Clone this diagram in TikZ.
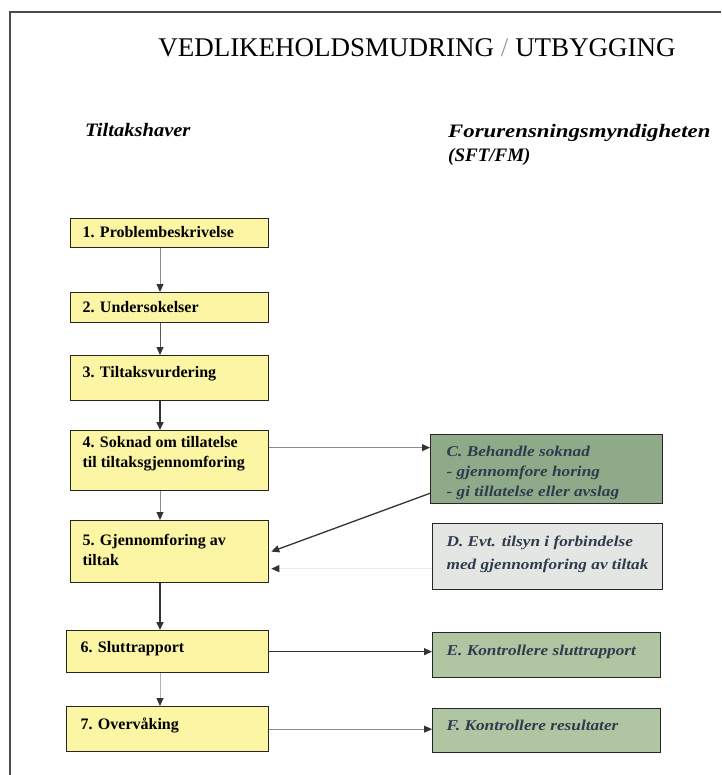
\documentclass[tikz,border=0pt]{standalone}
\usepackage{fontspec}
\usepackage{graphicx}
\setmainfont{Liberation Serif}
\newfontfamily\rfont[FakeStretch=1.15]{Liberation Serif}
\usetikzlibrary{arrows.meta}
\definecolor{ylw}{HTML}{FCF6A4}
\definecolor{grnd}{HTML}{8FAA88}
\definecolor{grnl}{HTML}{B0C6A3}
\definecolor{gryb}{HTML}{E3E6E2}
\definecolor{rtxt}{HTML}{2F3B4E}
\definecolor{lnk}{HTML}{333333}
\definecolor{lnl}{HTML}{8A8A8A}
\newcommand{\bxt}[5]{\parbox[c][#2][t]{#1}{\raggedright\leftskip=#4\relax\vspace*{#3}#5\par}}
\tikzset{
  box/.style={draw=black!85, line width=1.3pt, inner sep=0pt, anchor=north west},
  lbox/.style={box, fill=ylw, font=\fontsize{16}{20}\selectfont\bfseries},
  rbox/.style={box, font=\rfont\fontsize{15}{20}\selectfont\bfseries\itshape, text=rtxt},
  thinarr/.style={draw=lnl, line width=0.8pt, -{Triangle[length=8pt,width=7pt,color=lnk]}},
  thickarr/.style={draw=lnk, line width=1.6pt, -{Triangle[length=8pt,width=7pt]}},
  frameline/.style={draw=black!70, line width=1.4pt},
  head/.style={font=\fontsize{19}{24}\selectfont\bfseries\itshape, anchor=base west, align=left, inner sep=0pt}
}
\begin{document}
\begin{tikzpicture}[x=1pt,y=-1pt]
\useasboundingbox (0,0) rectangle (721,775);
\draw[frameline] (10,775) -- (10,12) -- (721,12);
\node[font=\fontsize{27}{30}\selectfont, inner sep=0pt] (title) at (417,48)
  {VEDLIKEHOLDSMUDRING {\color{black!40}/} UTBYGGING};
\node[head] (hl) at (85,137) {\scalebox{1.08}[1]{Tiltakshaver}};
\node[head] (hr) at (448,162) {\scalebox{1.2}[1]{Forurensningsmyndigheten}\\(SFT/FM)};

\node[lbox] (b1) at (70,218) {\bxt{198pt}{29pt}{8pt}{12pt}{1. Problembeskrivelse}};
\node[lbox] (b2) at (70,292) {\bxt{198pt}{30pt}{9pt}{12pt}{2. Undersokelser}};
\node[lbox] (b3) at (70,355) {\bxt{198pt}{45pt}{11pt}{12pt}{3. Tiltaksvurdering}};
\node[lbox] (b4) at (70,430) {\bxt{198pt}{60pt}{6pt}{12pt}{4. Soknad om tillatelse\\til tiltaksgjennomforing}};
\node[lbox] (b5) at (70,520) {\bxt{198pt}{62pt}{14pt}{12pt}{5. Gjennomforing av\\tiltak}};
\node[lbox] (b6) at (66,630) {\bxt{202pt}{42pt}{11pt}{14pt}{6. Sluttrapport}};
\node[lbox] (b7) at (66,706) {\bxt{202pt}{45pt}{11pt}{14pt}{7. Overvåking}};

\node[rbox, fill=grnd] (C) at (430,434) {\bxt{232pt}{69pt}{11pt}{16pt}{C. Behandle soknad\\- gjennomfore horing\\- gi tillatelse eller avslag}};
\node[rbox, fill=gryb, font=\rfont\fontsize{15}{23}\selectfont\bfseries\itshape] (D) at (432,523) {\bxt{230pt}{66pt}{12pt}{14pt}{D. Evt. tilsyn i forbindelse\\med gjennomforing av tiltak}};
\node[rbox, fill=grnl] (E) at (432,632) {\bxt{228pt}{45pt}{12pt}{14pt}{E. Kontrollere sluttrapport}};
\node[rbox, fill=grnl] (F) at (432,708) {\bxt{228pt}{44pt}{11pt}{14pt}{F. Kontrollere resultater}};

\coordinate (cx) at (160,0);
\draw[thinarr] (b1.south -| cx) -- (b2.north -| cx);
\draw[thinarr, draw=black!65] (b2.south -| cx) -- (b3.north -| cx);
\draw[thickarr] (b3.south -| cx) -- (b4.north -| cx);
\draw[thinarr] (b4.south -| cx) -- (b5.north -| cx);
\draw[thickarr] (b5.south -| cx) -- (b6.north -| cx);
\draw[thinarr, draw=black!30] (b6.south -| cx) -- (b7.north -| cx);

\coordinate (a4) at ([yshift=13pt]b4.east);
\draw[thinarr] (a4) -- (C.west |- a4);
\draw[thickarr, line width=1.3pt] ([yshift=11pt]C.south west) -- ([xshift=2pt]b5.east);
\coordinate (dd) at ([yshift=-12pt]D.west);
\draw[thinarr, draw=black!8] (dd) -- ([xshift=2pt]b5.east |- dd);
\draw[thickarr, line width=1.2pt] (b6.east) -- (E.west |- b6.east);
\draw[thinarr] (b7.east) -- (F.west |- b7.east);
\end{tikzpicture}
\end{document}
